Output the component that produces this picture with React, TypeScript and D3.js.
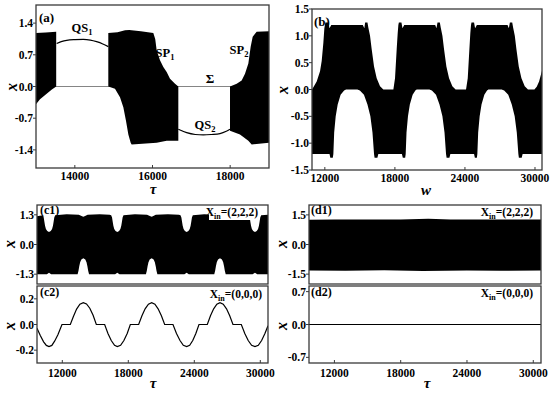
import * as d3 from "d3";

type Pt = [number, number];
type Box = { x0: number; x1: number; y0: number; y1: number };

const FONT = "'Liberation Serif', 'DejaVu Serif', 'Times New Roman', Times, serif";
const FRAME = "#3a3a3a";

// ---------- panel (a) ----------
const aTauTicks = [14000, 16000, 18000];
const aXTicks = [-1.4, -0.7, 0, 0.7, 1.4];
const aBlock1Top: Pt[] = [[13000, 1.18], [13250, 1.19], [13520, 1.21]];
const aBlock1Bottom: Pt[] = [[13000, -0.39], [13103, -0.28], [13275, -0.16], [13400, -0.07], [13520, 0]];
const aQS1: Pt[] = [[13532, 0.95], [13650, 0.99], [13790, 1.02], [14000, 1.035], [14218, 1.04], [14400, 1.025], [14560, 0.99], [14720, 0.94], [14862, 0.88]];
const aBlock2Top: Pt[] = [[14862, 1.18], [15100, 1.2], [15292, 1.24], [15400, 1.25], [15700, 1.22], [16021, 1.18], [16070, 1.05], [16107, 0.8], [16193, 0.58], [16279, 0.43], [16365, 0.32], [16451, 0.17], [16580, 0.06], [16665, 0]];
const aBlock2Bottom: Pt[] = [[14862, 0], [15034, -0.05], [15163, -0.24], [15249, -0.46], [15318, -0.76], [15378, -1.06], [15438, -1.24], [15463, -1.28], [16107, -1.24], [16365, -1.2], [16665, -1.2]];
const aQS2: Pt[] = [[16665, -0.945], [16880, -1.02], [17100, -1.06], [17309, -1.07], [17520, -1.06], [17738, -1.04], [17900, -0.99], [17996, -0.945]];
const aBlock3Top: Pt[] = [[17996, 0], [18168, 0.06], [18296, 0.13], [18382, 0.28], [18468, 0.51], [18528, 0.88], [18580, 1.1], [18682, 1.21], [19000, 1.22]];
const aBlock3Bottom: Pt[] = [[17996, -0.98], [18253, -1.06], [18468, -1.2], [18554, -1.28], [19000, -1.24]];

// ---------- panel (b) ----------
const bWTicks = [12000, 18000, 24000, 30000];
const bXTicks = [-1.5, -1, -0.5, 0, 0.5, 1, 1.5];
const bTop: Pt[] = [
  [10900, 0], [11017, 0.04], [11302, 0.15], [11588, 0.34], [11730, 0.53], [11873, 0.87], [11959, 1.14], [12044, 1.25], [12300, 1.25], [12400, 1.14], [12550, 1.2],
  [15250, 1.2], [15385, 1.14], [15450, 1.25], [15650, 1.25], [15728, 1.15], [15870, 1.0], [16013, 0.75], [16213, 0.43], [16441, 0.21], [16727, 0.06], [17012, 0],
  [17869, 0], [18011, 0.21], [18154, 0.75], [18240, 1.05], [18297, 1.2], [18340, 1.25], [18560, 1.25], [18650, 1.14], [18800, 1.2],
  [21450, 1.2], [21560, 1.14], [21650, 1.25], [21850, 1.25], [21930, 1.15], [22070, 1.0], [22210, 0.75], [22410, 0.43], [22640, 0.21], [22920, 0.06], [23200, 0],
  [24093, 0], [24240, 0.21], [24380, 0.75], [24460, 1.05], [24520, 1.2], [24560, 1.25], [24780, 1.25], [24870, 1.14], [25020, 1.2],
  [27650, 1.2], [27760, 1.14], [27850, 1.25], [28050, 1.25], [28130, 1.15], [28270, 1.0], [28410, 0.75], [28610, 0.43], [28840, 0.21], [29120, 0.06], [29400, 0],
  [29950, 0], [30150, 0.05], [30350, 0.15], [30600, 0.35],
];
const bBottom: Pt[] = [
  [10900, -1.2], [12400, -1.2], [12470, -1.27], [12680, -1.27],
  [12730, -1.2], [12800, -0.8], [12930, -0.5], [13100, -0.28], [13350, -0.1], [13650, -0.02], [13815, 0], [14785, 0], [15000, -0.02], [15350, -0.1], [15650, -0.28], [15900, -0.5], [16080, -0.8], [16213, -1.2],
  [16260, -1.27], [16500, -1.27], [16580, -1.2], [18600, -1.2], [18680, -1.27], [18880, -1.27],
  [18925, -1.2], [18995, -0.8], [19120, -0.5], [19280, -0.28], [19520, -0.1], [19750, -0.02], [19867, 0], [20952, 0], [21170, -0.02], [21520, -0.1], [21820, -0.28], [22070, -0.5], [22250, -0.8], [22380, -1.2],
  [22430, -1.27], [22670, -1.27], [22750, -1.2], [24780, -1.2], [24850, -1.27], [25020, -1.27],
  [25063, -1.2], [25133, -0.8], [25260, -0.5], [25420, -0.28], [25660, -0.1], [25890, -0.02], [26006, 0], [27148, 0], [27360, -0.02], [27710, -0.1], [28010, -0.28], [28260, -0.5], [28440, -0.8], [28576, -1.2],
  [28620, -1.27], [28860, -1.27], [28940, -1.2], [30600, -1.2],
];

// ---------- panels (c1), (c2), (d1), (d2) ----------
const tauTicks = [12000, 18000, 24000, 30000];
const c1XTicks = [-1.3, 0, 1.3];
const c2XTicks = [-0.2, 0, 0.2];
const d1XTicks = [-1.5, 0, 1.5];
const d2XTicks = [-0.7, 0, 0.7];

const c1Top: Pt[] = [
  [9700, 1.24], [10100, 1.27],
  [10231, 1.28], [10311, 1.18], [10371, 1.0], [10431, 0.82], [10511, 0.68], [10631, 0.59], [10791, 0.55], [10951, 0.59], [11071, 0.68], [11151, 0.82], [11211, 1.0], [11271, 1.18], [11351, 1.28],
  [12400, 1.32], [13500, 1.3], [13800, 1.24], [13912, 1.22], [14020, 1.24], [14300, 1.3], [15400, 1.32], [16300, 1.3],
  [16442, 1.28], [16522, 1.18], [16582, 1.0], [16642, 0.82], [16722, 0.68], [16842, 0.59], [17002, 0.55], [17162, 0.59], [17282, 0.68], [17362, 0.82], [17422, 1.0], [17482, 1.18], [17562, 1.28],
  [18600, 1.32], [19700, 1.3], [20010, 1.24], [20123, 1.22], [20230, 1.24], [20500, 1.3], [21600, 1.32], [22600, 1.3],
  [22745, 1.28], [22825, 1.18], [22885, 1.0], [22945, 0.82], [23025, 0.68], [23145, 0.59], [23305, 0.55], [23465, 0.59], [23585, 0.68], [23665, 0.82], [23725, 1.0], [23785, 1.18], [23865, 1.28],
  [24900, 1.32], [26000, 1.3], [26220, 1.24], [26335, 1.22], [26440, 1.24], [26700, 1.3], [27800, 1.32], [28800, 1.3],
  [28956, 1.28], [29036, 1.18], [29096, 1.0], [29156, 0.82], [29236, 0.68], [29356, 0.59], [29516, 0.55], [29676, 0.59], [29796, 0.68], [29876, 0.82], [29936, 1.0], [29996, 1.18], [30076, 1.28],
  [30700, 1.3],
];
const c1Bottom: Pt[] = [
  [9700, -1.3], [10600, -1.3], [10791, -1.24], [10980, -1.3],
  [13392, -1.3], [13472, -1.15], [13542, -0.95], [13622, -0.78], [13732, -0.66], [13912, -0.6], [14092, -0.66], [14202, -0.78], [14282, -0.95], [14352, -1.15], [14432, -1.3],
  [16800, -1.3], [17002, -1.24], [17200, -1.3],
  [19603, -1.3], [19683, -1.15], [19753, -0.95], [19833, -0.78], [19943, -0.66], [20123, -0.6], [20303, -0.66], [20413, -0.78], [20493, -0.95], [20563, -1.15], [20643, -1.3],
  [23100, -1.3], [23305, -1.24], [23500, -1.3],
  [25815, -1.3], [25895, -1.15], [25965, -0.95], [26045, -0.78], [26155, -0.66], [26335, -0.6], [26515, -0.66], [26625, -0.78], [26705, -0.95], [26775, -1.15], [26855, -1.3],
  [29300, -1.3], [29516, -1.24], [29720, -1.3], [30700, -1.3],
];
const c2Line: Pt[] = [
  [9700, -0.03], [10000, -0.085], [10300, -0.135], [10550, -0.163], [10791, -0.172], [11050, -0.163], [11300, -0.13], [11600, -0.08], [11972, 0],
  [12730, 0], [13000, 0.06], [13300, 0.12], [13600, 0.158], [13912, 0.17], [14200, 0.16], [14500, 0.127], [14800, 0.072], [15093, 0],
  [15851, 0], [16150, -0.07], [16450, -0.125], [16750, -0.162], [17002, -0.172], [17300, -0.162], [17600, -0.125], [17900, -0.07], [18184, 0],
  [18942, 0], [19240, 0.068], [19530, 0.122], [19830, 0.158], [20123, 0.17], [20420, 0.158], [20710, 0.122], [21010, 0.068], [21305, 0],
  [22062, 0], [22380, -0.07], [22700, -0.125], [23000, -0.162], [23305, -0.172], [23580, -0.162], [23860, -0.125], [24140, -0.07], [24426, 0],
  [25183, 0], [25470, 0.068], [25760, 0.122], [26050, 0.158], [26335, 0.17], [26630, 0.158], [26930, 0.122], [27220, 0.068], [27516, 0],
  [28274, 0], [28590, -0.07], [28900, -0.125], [29210, -0.162], [29516, -0.172], [29820, -0.162], [30120, -0.125], [30420, -0.07], [30700, -0.01],
];
const d1Top: Pt[] = [[9700, 1.25], [12000, 1.26], [15000, 1.27], [18000, 1.26], [20500, 1.3], [22500, 1.27], [26000, 1.26], [30700, 1.27]];
const d1Bottom: Pt[] = [[9700, -1.32], [13000, -1.33], [16500, -1.31], [20000, -1.34], [24000, -1.32], [27000, -1.33], [30700, -1.32]];
const d2Line: Pt[] = [[9700, 0], [30700, 0]];

const boxA: Box = { x0: 36, x1: 269, y0: 5, y1: 168 };
const boxB: Box = { x0: 312, x1: 542, y0: 9, y1: 170 };
const boxC1: Box = { x0: 37, x1: 268, y0: 205, y1: 284 };
const boxC2: Box = { x0: 37, x1: 268, y0: 286, y1: 363 };
const boxD1: Box = { x0: 309, x1: 541, y0: 205, y1: 284 };
const boxD2: Box = { x0: 309, x1: 541, y0: 286, y1: 363 };

const scales = (b: Box, xd: [number, number], yd: [number, number]) => ({
  x: d3.scaleLinear().domain(xd).range([b.x0, b.x1]),
  y: d3.scaleLinear().domain(yd).range([b.y1, b.y0]),
});

type Sc = ReturnType<typeof scales>;

const band = (s: Sc, top: Pt[], bottom: Pt[]) => {
  const line = d3.line<Pt>().x((d) => s.x(d[0])).y((d) => s.y(d[1]));
  return line([...top, ...bottom.slice().reverse()]) + "Z";
};
const trace = (s: Sc, pts: Pt[], curve: d3.CurveFactory = d3.curveLinear) =>
  d3.line<Pt>().x((d) => s.x(d[0])).y((d) => s.y(d[1])).curve(curve)(pts) || "";

function Axes({ s, b, xTicks, yTicks, xLab, xOff }: { s: Sc; b: Box; xTicks: number[]; yTicks: number[]; xLab: boolean; xOff?: number }) {
  return (
    <g fontFamily={FONT} fontWeight="bold" fontSize={11.5} fill="#000">
      {yTicks.map((t) => (
        <g key={"y" + t}>
          <line x1={b.x0 - 3} x2={b.x0} y1={s.y(t)} y2={s.y(t)} stroke={FRAME} strokeWidth={1} />
          <text x={b.x0 - 3} y={s.y(t)} dy="0.35em" textAnchor="end">{t.toFixed(1)}</text>
        </g>
      ))}
      {xTicks.map((t) => (
        <g key={"x" + t}>
          <line x1={s.x(t)} x2={s.x(t)} y1={b.y1} y2={b.y1 - 3} stroke={FRAME} strokeWidth={1} />
          {xLab && <text x={s.x(t)} y={b.y1 + (xOff || 13)} textAnchor="middle">{t}</text>}
        </g>
      ))}
      <rect x={b.x0} y={b.y0} width={b.x1 - b.x0} height={b.y1 - b.y0} fill="none" stroke={FRAME} strokeWidth={1.3} />
    </g>
  );
}

function Clip({ id, b }: { id: string; b: Box }) {
  return (
    <clipPath id={id}>
      <rect x={b.x0} y={b.y0} width={b.x1 - b.x0} height={b.y1 - b.y0} />
    </clipPath>
  );
}

function Xin({ x, y, v, backdrop }: { x: number; y: number; v: string; backdrop?: boolean }) {
  return (
    <g>
      {backdrop && <rect x={x - 49} y={y - 10} width={50} height={14} fill="#fff" />}
      <text x={x} y={y} textAnchor="end" fontFamily={FONT} fontWeight="bold" fontSize={11.5}>
        X<tspan fontSize={8} dy={3}>in</tspan><tspan dy={-3}>={v}</tspan>
      </text>
    </g>
  );
}

function Sub({ x, y, a, b, size }: { x: number; y: number; a: string; b: string; size: number }) {
  return (
    <text x={x} y={y} textAnchor="middle" fontFamily={FONT} fontWeight="bold" fontSize={size}>
      {a}<tspan fontSize={size * 0.68} dy={3}>{b}</tspan>
    </text>
  );
}

function YLab({ x, y }: { x: number; y: number }) {
  return (
    <text transform={`translate(${x},${y}) rotate(-90)`} textAnchor="middle" fontFamily={FONT} fontStyle="italic" fontWeight="bold" fontSize={16}>x</text>
  );
}

function XLab({ x, y, t }: { x: number; y: number; t: string }) {
  return (
    <text x={x} y={y} textAnchor="middle" fontFamily={FONT} fontStyle="italic" fontWeight="bold" fontSize={15}>{t}</text>
  );
}

export default function App() {
  const sA = scales(boxA, [13000, 19000], [-1.8, 1.8]);
  const sB = scales(boxB, [10900, 30600], [-1.5, 1.5]);
  const sC1 = scales(boxC1, [9700, 30700], [-1.73, 1.73]);
  const sC2 = scales(boxC2, [9700, 30700], [-0.3, 0.3]);
  const sD1 = scales(boxD1, [9700, 30700], [-2.0, 2.0]);
  const sD2 = scales(boxD2, [9700, 30700], [-0.82, 0.82]);

  return (
    <svg width={550} height={396} style={{ position: "absolute", left: 0, top: 0, background: "#fff" }}>
      <defs>
        <Clip id="cA" b={boxA} />
        <Clip id="cB" b={boxB} />
        <Clip id="cC1" b={boxC1} />
        <Clip id="cC2" b={boxC2} />
        <Clip id="cD1" b={boxD1} />
        <Clip id="cD2" b={boxD2} />
      </defs>

      {/* (a) */}
      <g clipPath="url(#cA)">
        <line x1={boxA.x0} x2={boxA.x1} y1={sA.y(0)} y2={sA.y(0)} stroke="#666" strokeWidth={0.8} />
        <path d={band(sA, aBlock1Top, aBlock1Bottom)} fill="#000" />
        <path d={band(sA, aBlock2Top, aBlock2Bottom)} fill="#000" />
        <path d={band(sA, aBlock3Top, aBlock3Bottom)} fill="#000" />
        <path d={trace(sA, aQS1, d3.curveMonotoneX)} fill="none" stroke="#000" strokeWidth={1.2} />
        <path d={trace(sA, aQS2, d3.curveMonotoneX)} fill="none" stroke="#000" strokeWidth={1.2} />
      </g>
      <Axes s={sA} b={boxA} xTicks={aTauTicks} yTicks={aXTicks} xLab xOff={11.5} />
      <text x={39} y={22} fontFamily={FONT} fontWeight="bold" fontSize={13}>(a)</text>
      <Sub x={82} y={32} a="QS" b="1" size={12.5} />
      <Sub x={165} y={57} a="SP" b="1" size={12.5} />
      <text x={210} y={83} textAnchor="middle" fontFamily={FONT} fontWeight="bold" fontSize={13}>Σ</text>
      <Sub x={205} y={129} a="QS" b="2" size={12.5} />
      <Sub x={239} y={54} a="SP" b="2" size={12.5} />
      <YLab x={17} y={87} />
      <XLab x={153} y={194} t="τ" />

      {/* (b) */}
      <g clipPath="url(#cB)">
        <path d={band(sB, bTop, bBottom)} fill="#000" />
      </g>
      <Axes s={sB} b={boxB} xTicks={bWTicks} yTicks={bXTicks} xLab xOff={11.5} />
      <text x={314} y={26} fontFamily={FONT} fontWeight="bold" fontSize={13}>(b)</text>
      <YLab x={288} y={90} />
      <XLab x={426} y={195} t="w" />

      {/* (c1) (c2) */}
      <g clipPath="url(#cC1)">
        <path d={band(sC1, c1Top, c1Bottom)} fill="#000" />
      </g>
      <Axes s={sC1} b={boxC1} xTicks={[]} yTicks={c1XTicks} xLab={false} />
      <g clipPath="url(#cC2)">
        <path d={trace(sC2, c2Line)} fill="none" stroke="#000" strokeWidth={1.2} />
      </g>
      <Axes s={sC2} b={boxC2} xTicks={tauTicks} yTicks={c2XTicks} xLab xOff={14} />
      <text x={40} y={214} fontFamily={FONT} fontWeight="bold" fontSize={12}>(c1)</text>
      <text x={40} y={296} fontFamily={FONT} fontWeight="bold" fontSize={12}>(c2)</text>
      <Xin x={258} y={216} v="(2,2,2)" backdrop />
      <Xin x={262} y={298} v="(0,0,0)" />
      <YLab x={15} y={244} />
      <YLab x={15} y={326} />
      <XLab x={153} y={388} t="τ" />

      {/* (d1) (d2) */}
      <g clipPath="url(#cD1)">
        <path d={band(sD1, d1Top, d1Bottom)} fill="#000" />
      </g>
      <Axes s={sD1} b={boxD1} xTicks={[]} yTicks={d1XTicks} xLab={false} />
      <g clipPath="url(#cD2)">
        <path d={trace(sD2, d2Line)} fill="none" stroke="#000" strokeWidth={1.2} />
      </g>
      <Axes s={sD2} b={boxD2} xTicks={tauTicks} yTicks={d2XTicks} xLab xOff={14} />
      <text x={311} y={214} fontFamily={FONT} fontWeight="bold" fontSize={12}>(d1)</text>
      <text x={311} y={296} fontFamily={FONT} fontWeight="bold" fontSize={12}>(d2)</text>
      <Xin x={533} y={216} v="(2,2,2)" />
      <Xin x={533} y={297} v="(0,0,0)" />
      <YLab x={287} y={244} />
      <YLab x={287} y={326} />
      <XLab x={427} y={388} t="τ" />
    </svg>
  );
}
